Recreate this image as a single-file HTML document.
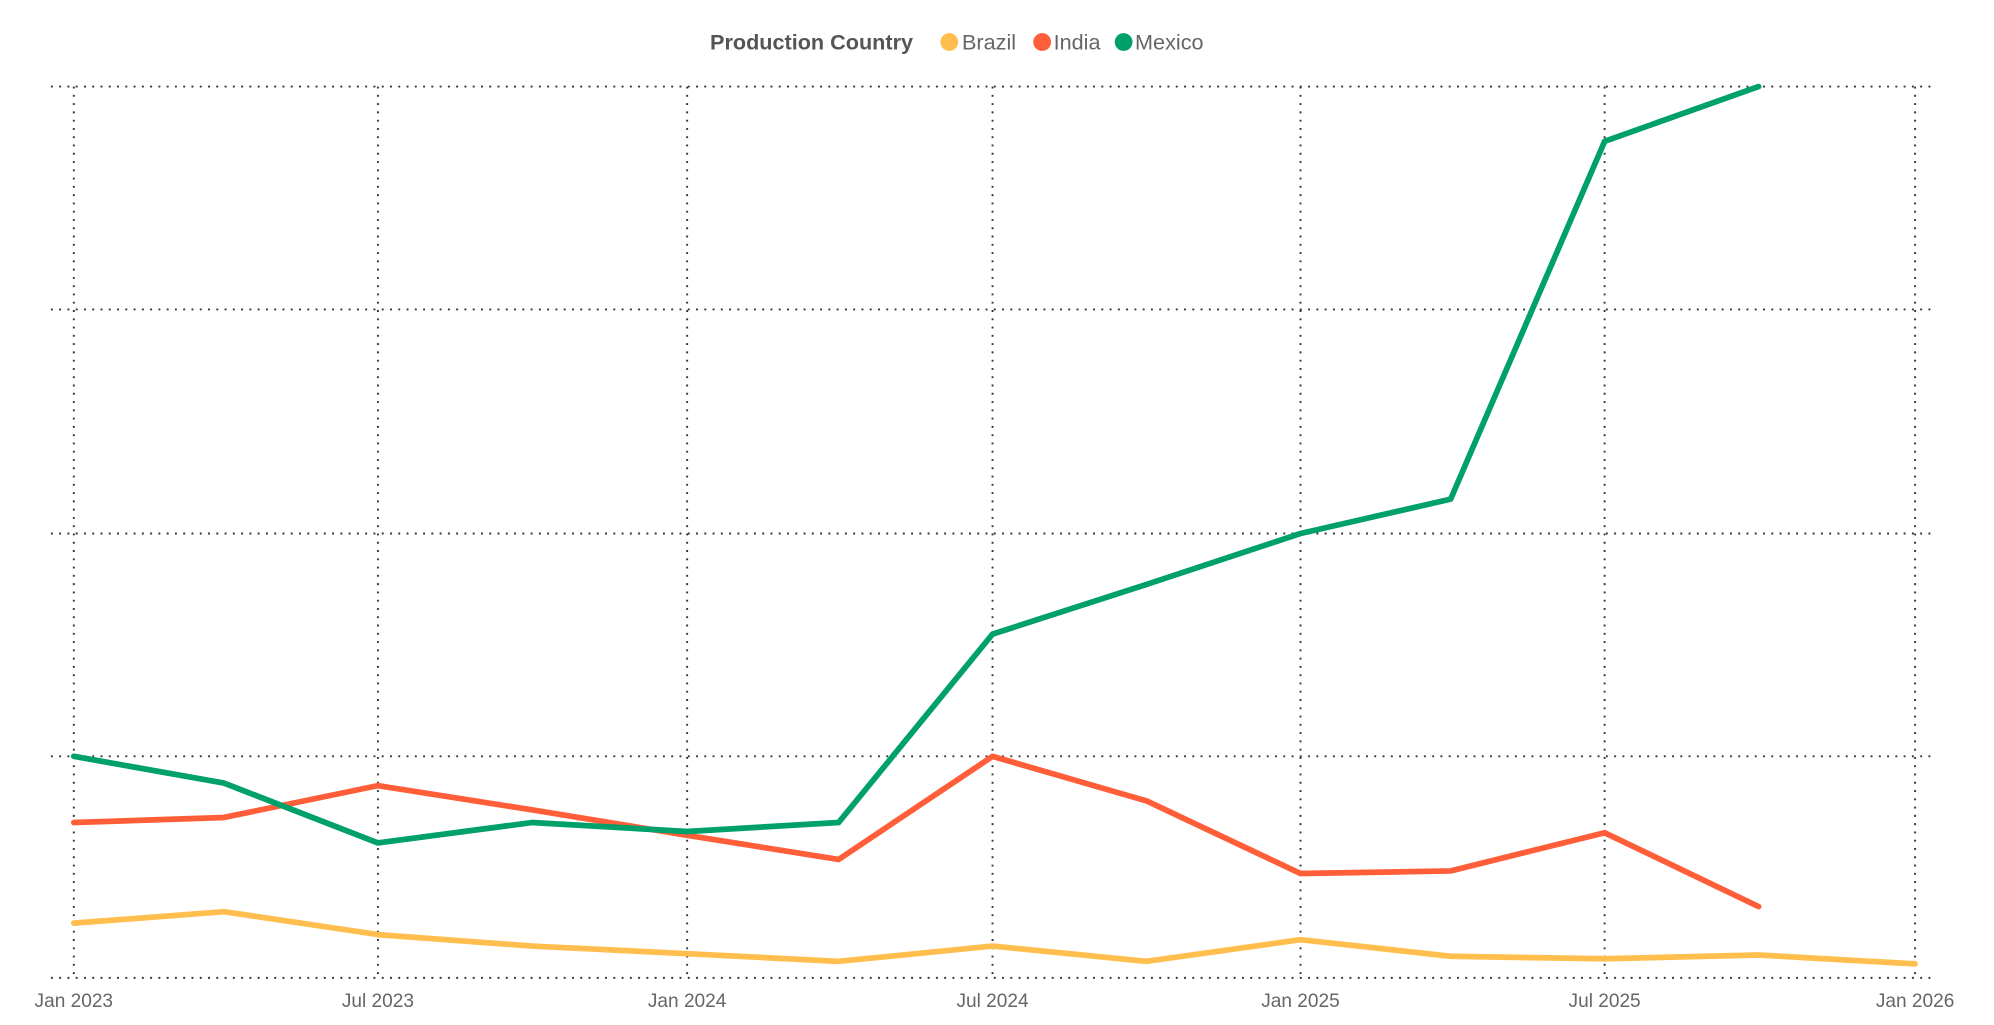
<!DOCTYPE html>
<html><head><meta charset="utf-8"><style>
html,body{margin:0;padding:0;background:#fff;}
svg{display:block;}
text{font-family:"Liberation Sans",Arial,sans-serif;}
</style></head><body>
<svg width="1994" height="1025" viewBox="0 0 1567 805" preserveAspectRatio="none" xmlns="http://www.w3.org/2000/svg">
<g stroke="#333" stroke-width="1.5" stroke-dasharray="1.5 5" fill="none">
<line x1="40" y1="68" x2="1518" y2="68"/>
<line x1="40" y1="243" x2="1518" y2="243"/>
<line x1="40" y1="419" x2="1518" y2="419"/>
<line x1="40" y1="594" x2="1518" y2="594"/>
<line x1="40" y1="768" x2="1518" y2="768"/>
<line x1="58" y1="68" x2="58" y2="770"/>
<line x1="297" y1="68" x2="297" y2="770"/>
<line x1="540" y1="68" x2="540" y2="770"/>
<line x1="780" y1="68" x2="780" y2="770"/>
<line x1="1022" y1="68" x2="1022" y2="770"/>
<line x1="1261" y1="68" x2="1261" y2="770"/>
<line x1="1505" y1="68" x2="1505" y2="770"/>
</g>
<g fill="none" stroke-width="4.5" stroke-linejoin="round" stroke-linecap="round">
<polyline stroke="#FFBE4D" points="58,725 176,716 297,734 418,743 540,749 659,755 780,743 901,755 1022,738 1140,751 1261,753 1382,750 1505,757"/>
<polyline stroke="#FF5E38" points="58,646 176,642 297,617 418,636 540,656 659,675 780,594 901,629 1022,686 1140,684 1261,654 1382,712"/>
<polyline stroke="#00A06A" points="58,594 176,615 297,662 418,646 540,653 659,646 780,498 901,459 1022,419 1140,392 1261,111 1382,68"/>
</g>
<g font-size="15" fill="#666" text-anchor="middle">
<text x="58" y="791">Jan 2023</text>
<text x="297" y="791">Jul 2023</text>
<text x="540" y="791">Jan 2024</text>
<text x="780" y="791">Jul 2024</text>
<text x="1022" y="791">Jan 2025</text>
<text x="1261" y="791">Jul 2025</text>
<text x="1505" y="791">Jan 2026</text>
</g>
<text x="558" y="39" font-size="17" font-weight="bold" fill="#555">Production Country</text>
<circle cx="746" cy="33" r="7" fill="#FFBE4D"/>
<text x="756" y="39" font-size="17" fill="#666">Brazil</text>
<circle cx="819" cy="33" r="7" fill="#FF5E38"/>
<text x="828" y="39" font-size="17" fill="#666">India</text>
<circle cx="883" cy="33" r="7" fill="#00A06A"/>
<text x="892" y="39" font-size="17" fill="#666">Mexico</text>
</svg>
</body></html>
